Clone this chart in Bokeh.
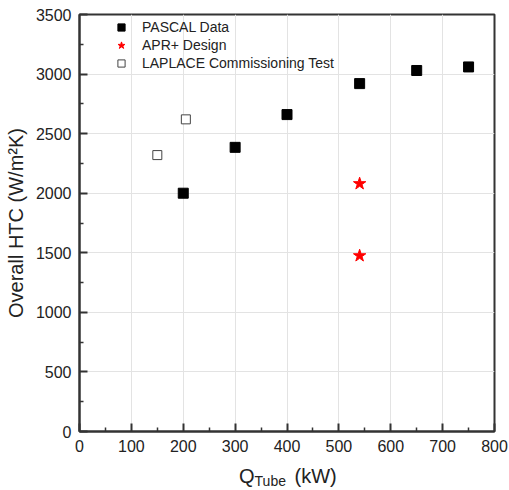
from bokeh.plotting import figure
from bokeh.models import Range1d, FixedTicker, Legend, LegendItem, Div
from bokeh.layouts import column
from bokeh.embed import file_html
from bokeh.resources import INLINE

# Data
pascal_q = [200, 300, 400, 540, 650, 750]
pascal_htc = [2000, 2385, 2660, 2920, 3030, 3060]
apr_q = [540, 540]
apr_htc = [2080, 1475]
laplace_q = [150, 205]
laplace_htc = [2320, 2620]

x_ticks = [0, 100, 200, 300, 400, 500, 600, 700, 800]
x_minor = [50, 150, 250, 350, 450, 550, 650, 750]
y_ticks = [0, 500, 1000, 1500, 2000, 2500, 3000, 3500]
y_minor = [250, 750, 1250, 1750, 2250, 2750, 3250]

FONT = "Liberation Sans"

p = figure(width=509, height=460, output_backend="svg", toolbar_location=None,
           x_range=Range1d(0, 800), y_range=Range1d(0, 3500),
           min_border_left=79, min_border_right=15, min_border_top=14, min_border_bottom=29)

p.outline_line_color = "#333333"
p.outline_line_width = 2

for ax in (p.xaxis, p.yaxis):
    ax.axis_line_color = "#333333"
    ax.axis_line_width = 2
    ax.major_tick_in = 8
    ax.major_tick_out = 0
    ax.minor_tick_in = 4
    ax.minor_tick_out = 0
    ax.major_tick_line_color = "#333333"
    ax.major_tick_line_width = 2
    ax.minor_tick_line_color = "#333333"
    ax.minor_tick_line_width = 1.5
    ax.major_label_text_font = FONT
    ax.major_label_text_font_size = "16px"
    ax.major_label_text_color = "#222222"
    ax.major_label_standoff = 8

p.xaxis.ticker = FixedTicker(ticks=x_ticks, minor_ticks=x_minor)
p.yaxis.ticker = FixedTicker(ticks=y_ticks, minor_ticks=y_minor)

p.yaxis.axis_label = "Overall HTC (W/m\u00b2K)"
p.yaxis.axis_label_text_font = FONT
p.yaxis.axis_label_text_font_size = "20px"
p.yaxis.axis_label_text_font_style = "normal"
p.yaxis.axis_label_text_color = "#222222"
p.yaxis.axis_label_standoff = 6

p.xgrid.ticker = FixedTicker(ticks=x_ticks)
p.ygrid.ticker = FixedTicker(ticks=y_ticks)
p.xgrid.grid_line_color = "#e3e3e3"
p.ygrid.grid_line_color = "#e3e3e3"
p.xgrid.grid_line_width = 1
p.ygrid.grid_line_width = 1

r1 = p.scatter(pascal_q, pascal_htc, marker="square", size=10,
               fill_color="black", line_color="black")
r2 = p.scatter(apr_q, apr_htc, marker="star", size=13,
               fill_color="red", line_color="red")
r3 = p.scatter(laplace_q, laplace_htc, marker="square", size=9,
               fill_color="white", line_color="#444444", line_width=1)

legend = Legend(items=[
    LegendItem(label="PASCAL Data", renderers=[r1]),
    LegendItem(label="APR+ Design", renderers=[r2]),
    LegendItem(label="LAPLACE Commissioning Test", renderers=[r3]),
], location=(32, 359), margin=0, padding=0, spacing=0,
    glyph_width=20, glyph_height=18, label_standoff=11, label_height=17,
    label_text_font=FONT, label_text_font_size="14px", label_text_color="#222222",
    background_fill_alpha=0, border_line_color=None)
p.add_layout(legend, "center")

xlabel = Div(
    text=('<div style="font-family:\'Liberation Sans\';font-size:20px;line-height:20px;'
          'color:#222222;padding-top:6px;padding-left:239px;white-space:nowrap;">'
          'Q<span style="font-size:14px;position:relative;top:3px;">Tube</span>'
          '<span style="padding-left:3px;"> (kW)</span></div>'),
    width=509, height=30, margin=0)

layout = column(p, xlabel, spacing=0)

open("out.html", "w").write(file_html(layout, INLINE))
